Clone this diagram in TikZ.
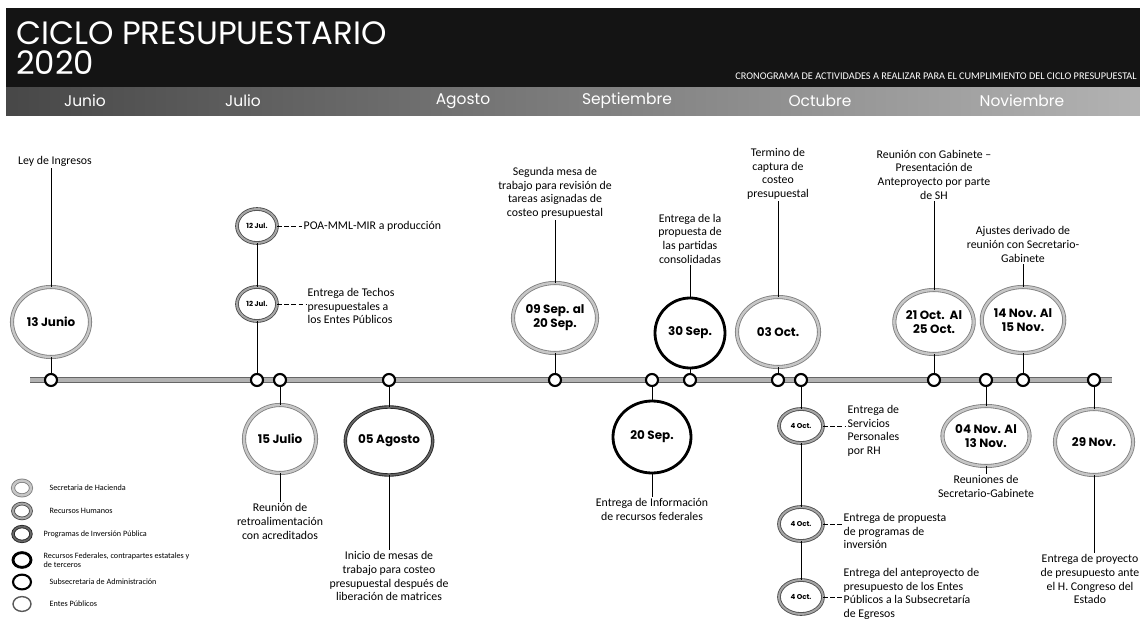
\documentclass[tikz,border=0pt]{standalone}
\usepackage{fontspec}
\setmainfont{Carlito}
\newfontfamily\gothic{Poppins}
\usetikzlibrary{shapes.geometric}

\tikzset{
  fecha/.style 2 args = {ellipse, inner sep = 0pt, fill = white, align = center,
    minimum width = #1*0.025cm, minimum height = #2*0.025cm,
    font = \gothic\bfseries\fontsize{8.5}{10}\selectfont},
  chica/.style 2 args = {fecha = {#1}{#2}, font = \gothic\bfseries\fontsize{5}{6}\selectfont},
  hacienda/.style = {draw = black!50, double = black!22, double distance = 1.7pt, line width = .6pt},
  humanos/.style = {draw = black!70, double = black!35, double distance = 1.4pt, line width = .6pt},
  inversion/.style = {draw = black!85, double = black!60, double distance = 1.2pt, line width = .6pt},
  federal/.style = {draw = black, line width = 2pt},
  admin/.style = {draw = black, line width = 1.5pt},
  entes/.style = {draw = black!65, line width = 1pt},
  tick/.style = {circle, draw, fill = white, line width = 1.5pt, minimum size = .3cm, inner sep = 0pt},
  txt/.style = {align = center, inner sep = 1pt, font = \fontsize{8.4}{9.7}\selectfont},
  lado/.style = {txt, align = left, anchor = west},
  enlace/.style = {line width = .6pt},
  punteado/.style = {line width = .5pt, densely dashed},
  mes/.style = {text = white, font = \gothic\fontsize{11}{12}\selectfont},
  leyenda/.style = {ellipse, minimum width = .45cm, minimum height = .37cm, inner sep = 0pt},
  leytxt/.style = {anchor = west, align = left, inner sep = 1pt, font = \fontsize{5.8}{6.6}\selectfont}
}

\begin{document}
\begin{tikzpicture}[x = 0.025cm, y = -0.025cm]
  \useasboundingbox [fill = white] (0,0) rectangle (1140,624);

  % encabezado
  \fill [black!92] (6,8) rectangle (1140,88);
  \shade [left color = black!72, right color = black!30] (6,88) rectangle (1140,116);
  \node [anchor = base west, inner sep = 0pt, text = white,
         font = \gothic\fontsize{23}{24}\selectfont] (titulo) at (16,45) {CICLO PRESUPUESTARIO};
  \node [anchor = base west, inner sep = 0pt, text = white,
         font = \gothic\fontsize{23}{24}\selectfont] (anio) at (16,75) {2020};
  \node [anchor = east, inner sep = 0pt, text = white,
         font = \fontsize{7.3}{8}\selectfont] (subtitulo) at (1137,76)
    {CRONOGRAMA DE ACTIVIDADES A REALIZAR PARA EL CUMPLIMIENTO DEL CICLO PRESUPUESTAL};
  \foreach \x/\m in {85/Junio, 243/Julio, 463/Agosto, 627/Septiembre, 820/Octubre, 1022/Noviembre}
    \node [mes] (mes-\m) at (\x,101) {\m};

  % linea de tiempo
  \coordinate (ejeI) at (30,380);
  \coordinate (ejeD) at (1112,380);
  \draw [draw = black!60, double = black!30, double distance = 3.4pt, line width = .6pt] (ejeI) -- (ejeD);
  \foreach \x/\n in {51/jun13, 257/jul12, 280/jul15, 389/ago05, 555/sep09, 652/sep20, 690/sep30,
                     778/oct03, 801/oct04, 934/oct21, 986/nov04, 1023/nov14, 1094/nov29}
    \node [tick] (t-\n) at (\x,380) {};

  % fechas arriba
  \node [fecha = {78}{70}, hacienda] (jun13) at (51,322) {13 Junio};
  \node [chica = {40}{34}, humanos] (jul12a) at (257,226) {12 Jul.};
  \node [chica = {40}{34}, humanos] (jul12b) at (257,304) {12 Jul.};
  \node [fecha = {84}{70}, hacienda] (sep09) at (555,318) {09 Sep. al\\20 Sep.};
  \node [fecha = {70}{70}, federal] (sep30) at (690,333) {30 Sep.};
  \node [fecha = {82}{70}, hacienda] (oct03) at (778,332) {03 Oct.};
  \node [fecha = {78}{64}, hacienda] (oct21) at (934,322) {21 Oct.\ \ Al\\25 Oct.};
  \node [fecha = {78}{66}, hacienda] (nov14) at (1023,320) {14 Nov. Al\\15 Nov.};

  % fechas abajo
  \node [fecha = {72}{68}, hacienda] (jul15) at (280,439) {15 Julio};
  \node [fecha = {76}{68}, inversion] (ago05) at (389,441) {05 Agosto};
  \node [fecha = {78}{72}, federal] (sep20) at (652,437) {20 Sep.};
  \node [chica = {44}{34}, humanos] (oct04a) at (801,426) {4 Oct.};
  \node [chica = {44}{34}, humanos] (oct04b) at (801,524) {4 Oct.};
  \node [chica = {44}{34}, humanos] (oct04c) at (801,597) {4 Oct.};
  \node [fecha = {80}{60}, hacienda] (nov04) at (986,436) {04 Nov. Al\\13 Nov.};
  \node [fecha = {78}{66}, hacienda] (nov29) at (1094,442) {29 Nov.};

  % actividades
  \node [txt, anchor = south] (ley) at (55,168) {Ley de Ingresos};
  \node [lado] (poa) at (302,226) {POA-MML-MIR a producción};
  \node [lado] (techos) at (306,306) {Entrega de Techos\\presupuestales a\\los Entes Públicos};
  \node [txt, anchor = south] (segunda) at (555,220)
    {Segunda mesa de\\trabajo para revisión de\\tareas asignadas de\\costeo presupuestal};
  \node [txt, anchor = south] (partidas) at (690,265)
    {Entrega de la\\propuesta de\\las partidas\\consolidadas};
  \node [txt, anchor = south] (termino) at (778,201) {Termino de\\captura de\\costeo\\presupuestal};
  \node [txt, anchor = south] (gabinete) at (934,201)
    {Reunión con Gabinete --\\Presentación de\\Anteproyecto por parte\\de SH};
  \node [txt, anchor = south] (ajustes) at (1023,264)
    {Ajustes derivado de\\reunión con Secretario-\\Gabinete};
  \node [txt, anchor = north] (retro) at (280,502) {Reunión de\\retroalimentación\\con acreditados};
  \node [txt, anchor = north] (inicio) at (389,550)
    {Inicio de mesas de\\trabajo para costeo\\presupuestal después de\\liberación de matrices};
  \node [txt, anchor = north] (info) at (652,497) {Entrega de Información\\de recursos federales};
  \node [lado] (servicios) at (846,431) {Entrega de\\Servicios\\Personales\\por RH};
  \node [lado] (propuesta) at (842,531) {Entrega de propuesta\\de programas de\\inversión};
  \node [lado] (antepro) at (842,594)
    {Entrega del anteproyecto de\\presupuesto de los Entes\\Públicos a la Subsecretaría\\de Egresos};
  \node [txt, anchor = north] (reuniones) at (986,474) {Reuniones de\\Secretario-Gabinete};
  \node [txt, anchor = north] (congreso) at (1090,553)
    {Entrega de proyecto\\de presupuesto ante\\el H. Congreso del\\Estado};

  % conectores
  \draw [enlace] (jun13.north) -- (jun13.north |- ley.south);
  \draw [enlace] (jun13) -- (t-jun13);
  \draw [enlace] (jul12a) -- (jul12b);
  \draw [enlace] (jul12b) -- (t-jul12);
  \draw [enlace] (segunda) -- (sep09) -- (t-sep09);
  \draw [enlace] (partidas) -- (sep30) -- (t-sep30);
  \draw [enlace] (termino) -- (oct03) -- (t-oct03);
  \draw [enlace] (gabinete) -- (oct21) -- (t-oct21);
  \draw [enlace] (ajustes) -- (nov14) -- (t-nov14);
  \draw [enlace] (t-jul15) -- (jul15) -- (retro);
  \draw [enlace] (t-ago05) -- (ago05) -- (inicio);
  \draw [enlace] (t-sep20) -- (sep20) -- (info);
  \draw [enlace] (t-oct04) -- (oct04a) -- (oct04b) -- (oct04c);
  \draw [enlace] (t-nov04) -- (nov04) -- (reuniones);
  \draw [enlace] (t-nov29) -- (nov29) -- (congreso.north -| nov29);
  \draw [punteado] (jul12a.east) -- (jul12a.east -| poa.west);
  \draw [punteado] (jul12b.east) -- (jul12b.east -| techos.west);
  \draw [punteado] (oct04a.east) -- (oct04a.east -| servicios.west);
  \draw [punteado] (oct04b.east) -- (oct04b.east -| propuesta.west);
  \draw [punteado] (oct04c.east) -- (oct04c.east -| antepro.west);

  % leyenda
  \node [leyenda, hacienda] (l1) at (22,488) {};
  \node [leyenda, humanos] (l2) at (22,511) {};
  \node [leyenda, inversion] (l3) at (22,534) {};
  \node [leyenda, federal] (l4) at (22,560) {};
  \node [leyenda, admin] (l5) at (22,582) {};
  \node [leyenda, entes] (l6) at (22,604) {};
  \node [leytxt] (lt1) at (48,488) {Secretaria de Hacienda};
  \node [leytxt] (lt2) at (48,511) {Recursos Humanos};
  \node [leytxt] (lt3) at (42,534) {Programas de Inversión Pública};
  \node [leytxt] (lt4) at (42,560) {Recursos Federales, contrapartes estatales y\\de terceros};
  \node [leytxt] (lt5) at (48,582) {Subsecretaria de Administración};
  \node [leytxt] (lt6) at (48,604) {Entes Públicos};
\end{tikzpicture}
\end{document}
